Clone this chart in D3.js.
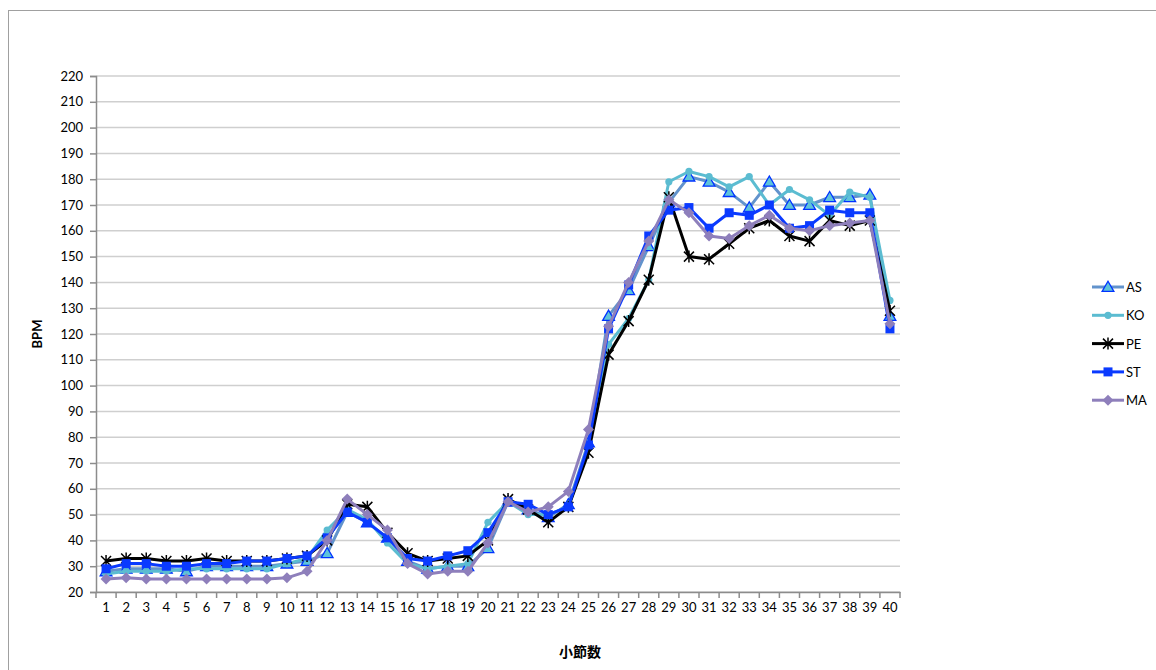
<!DOCTYPE html>
<html><head><meta charset="utf-8">
<script src="https://cdn.jsdelivr.net/npm/d3@7"></script>
<style>
body{margin:0;background:#fff;}
svg{display:block;}
text{font-family:Lato,"Open Sans",sans-serif;}
</style></head>
<body>
<svg id="c" width="1156" height="670"></svg>
<script>
const categories = d3.range(1, 41).map(String);
const yTicks = [20,30,40,50,60,70,80,90,100,110,120,130,140,150,160,170,180,190,200,210,220];
const seriesNames = ["AS","KO","PE","ST","MA"];
const AS = [28,29,29,29,28,30,30,30,30,31,32,35,51,47,41,32,29,30,30,37,55,52,49,54,78,127,137,154,171,181,179,175,169,179,170,170,173,173,174,127];
const KO = [27,28,28,28,29,29,29,29,29,31,33,44,52,48,39,31,29,30,31,47,55,50,50,53,76,116,126,141,179,183,181,177,181,170,176,172,166,175,173,133];
const PE = [32,33,33,32,32,33,32,32,32,33,34,40,54,53,43,35,32,33,34,40,56,52,47,53,74,112,125,141,173,150,149,155,161,164,158,156,164,162,164,129];
const ST = [29,31,31,30,30,31,31,32,32,33,34,41,51,47,41,33,32,34,36,43,55,54,50,53,77,122,139,158,168,169,161,167,166,170,161,162,168,167,167,122];
const MA = [25,25.5,25,25,25,25,25,25,25,25.5,28,40,56,50,44,31,27,28,28,39,55,51,53,59,83,123,140,156,172,167,158,157,162,166,161,160,162,163,164,124];

const seriesData = [AS, KO, PE, ST, MA];
const styles = {
  AS:{line:"#6293CC", marker:"triangle", fill:"#5EC3DA", stroke:"#0033FF"},
  KO:{line:"#5BBCD1", marker:"circle", fill:"#5BBCD1", stroke:"#5BBCD1"},
  PE:{line:"#000000", marker:"asterisk", fill:"none", stroke:"#000000"},
  ST:{line:"#0A3AFF", marker:"square", fill:"#0A3AFF", stroke:"#0A3AFF"},
  MA:{line:"#8E7FBB", marker:"diamond", fill:"#8E7FBB", stroke:"#8E7FBB"}
};

const svg = d3.select("#c");
svg.append("rect").attr("x",8.5).attr("y",10.5).attr("width",1200).attr("height",700)
  .attr("fill","none").attr("stroke","#a0a0a0").attr("stroke-width",1);

const L=96, R=900, T=76, B=592;
const x = d3.scaleBand().domain(categories).range([L,R]);
const y = d3.scaleLinear().domain([20,220]).range([B,T]);

// gridlines
svg.append("g").selectAll("line").data(yTicks).join("line")
  .attr("x1",L).attr("x2",R).attr("y1",d=>y(d)).attr("y2",d=>y(d))
  .attr("stroke","#cfcfcf").attr("stroke-width",1.5);

// y axis
const yAxis = svg.append("g").attr("transform",`translate(${L},0)`)
  .call(d3.axisLeft(y).tickValues(yTicks).tickSize(6).tickPadding(7));
yAxis.select(".domain").attr("stroke","#8c8c8c").attr("stroke-width",1.5);
yAxis.selectAll(".tick line").attr("stroke","#8c8c8c").attr("stroke-width",1.5);
yAxis.selectAll("text").attr("font-size",13).attr("fill","#000").style("font-family","Lato, sans-serif");

// x axis
const xAxis = svg.append("g").attr("transform",`translate(0,${B})`)
  .call(d3.axisBottom(x).tickSize(0).tickPadding(11));
xAxis.select(".domain").attr("stroke","#8c8c8c").attr("stroke-width",1.5);
xAxis.selectAll("text").attr("font-size",13).attr("fill","#000").style("font-family","Lato, sans-serif");
// boundary ticks
const bounds = categories.map(c=>x(c)).concat([R]);
svg.append("g").selectAll("line").data(bounds).join("line")
  .attr("x1",d=>d).attr("x2",d=>d).attr("y1",B).attr("y2",B+6)
  .attr("stroke","#8c8c8c").attr("stroke-width",1.5);

// axis titles
svg.append("text").attr("transform",`translate(42,${(T+B)/2}) rotate(-90)`)
  .attr("text-anchor","middle").attr("font-size",13).attr("font-weight","bold").text("BPM");
svg.append("text").attr("x",580).attr("y",657).attr("text-anchor","middle")
  .attr("font-size",14).attr("font-weight","bold")
  .style("font-family","'Noto Sans CJK JP', sans-serif").text("小節数");

function drawMarker(g, type, st, cx, cy, scale) {
  const s = scale || 1;
  if (type==="triangle") {
    g.append("path").attr("d",d3.symbol(d3.symbolTriangle, 60*s)())
      .attr("transform",`translate(${cx},${cy+1})`)
      .attr("fill",st.fill).attr("stroke",st.stroke).attr("stroke-width",1.3);
  } else if (type==="circle") {
    g.append("circle").attr("cx",cx).attr("cy",cy).attr("r",3.6*Math.sqrt(s)).attr("fill",st.fill);
  } else if (type==="square") {
    const h=4.5*Math.sqrt(s);
    g.append("rect").attr("x",cx-h).attr("y",cy-h).attr("width",2*h).attr("height",2*h).attr("fill",st.fill);
  } else if (type==="diamond") {
    const h=5.5*Math.sqrt(s);
    g.append("path").attr("d",`M${cx},${cy-h}L${cx+h},${cy}L${cx},${cy+h}L${cx-h},${cy}Z`).attr("fill",st.fill);
  } else if (type==="asterisk") {
    const h=5;
    g.append("path").attr("d",`M${cx-h},${cy-h}L${cx+h},${cy+h}M${cx-h},${cy+h}L${cx+h},${cy-h}M${cx},${cy-h-1}L${cx},${cy+h+1}`)
      .attr("stroke",st.stroke).attr("stroke-width",1.5).attr("fill","none");
  }
}

const line = d3.line().x((d,i)=>x(categories[i])+x.bandwidth()/2).y(d=>y(d));
seriesNames.forEach((name,k)=>{
  const st = styles[name];
  const g = svg.append("g");
  g.append("path").datum(seriesData[k]).attr("d",line).attr("fill","none")
    .attr("stroke",st.line).attr("stroke-width",3).attr("stroke-linejoin","round");
  seriesData[k].forEach((v,i)=>{
    drawMarker(g, st.marker, st, x(categories[i])+x.bandwidth()/2, y(v));
  });
});

// legend
const legY0 = 287, legDy = 28.3;
seriesNames.forEach((name,k)=>{
  const st = styles[name];
  const g = svg.append("g");
  const yy = legY0 + k*legDy;
  g.append("line").attr("x1",1092).attr("x2",1124).attr("y1",yy).attr("y2",yy)
    .attr("stroke",st.line).attr("stroke-width",3);
  drawMarker(g, st.marker, st, 1108, yy);
  g.append("text").attr("x",1126).attr("y",yy+5).attr("font-size",13).text(name);
});
</script>
</body></html>
